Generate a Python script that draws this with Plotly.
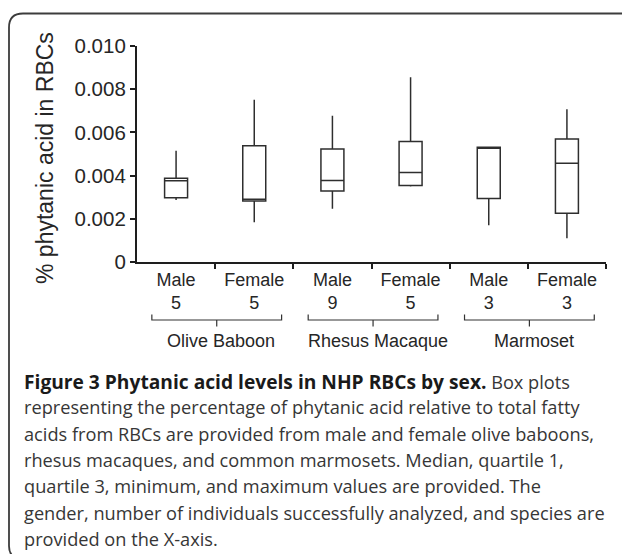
import plotly.graph_objects as go

# ---- data ----
sexes = ["Male", "Female", "Male", "Female", "Male", "Female"]
counts = [5, 5, 9, 5, 3, 3]
species = ["Olive Baboon", "Rhesus Macaque", "Marmoset"]
minimum = [0.00288, 0.00185, 0.00247, 0.00350, 0.00171, 0.00111]
quartile1 = [0.00298, 0.00283, 0.00329, 0.00354, 0.00295, 0.00226]
median = [0.00377, 0.00291, 0.00378, 0.00415, 0.00528, 0.00457]
quartile3 = [0.00388, 0.00538, 0.00523, 0.00558, 0.00531, 0.00569]
maximum = [0.00515, 0.00750, 0.00677, 0.00854, 0.00532, 0.00707]
y_ticks = [0, 0.002, 0.004, 0.006, 0.008, 0.010]
y_ticktext = ["0", "0.002", "0.004", "0.006", "0.008", "0.010"]
y_title = "% phytanic acid in RBCs"
caption_bold = "Figure 3 Phytanic acid levels in NHP RBCs by sex."
caption_lines = [
    " Box plots",
    "representing the percentage of phytanic acid relative to total fatty",
    "acids from RBCs are provided from male and female olive baboons,",
    "rhesus macaques, and common marmosets. Median, quartile 1,",
    "quartile 3, minimum, and maximum values are provided. The",
    "gender, number of individuals successfully analyzed, and species are",
    "provided on the X-axis.",
]

W, H = 622, 554
positions = list(range(len(sexes)))
XR = [-0.5, len(sexes) - 0.5]
XD = [137 / W, 606 / W]
YD = [1 - 262.3 / H, 1 - 45.7 / H]


def px_x(v):
    return XD[0] + (v - XR[0]) / (XR[1] - XR[0]) * (XD[1] - XD[0])


def py(p):
    return 1 - p / H


def pxp(p):
    return p / W


AX = "#1e1e1e"
TXT = "#262626"
CAP = "#363636"

fig = go.Figure()
fig.add_trace(go.Box(
    x=positions,
    q1=quartile1, median=median, q3=quartile3,
    lowerfence=minimum, upperfence=maximum,
    fillcolor="white",
    line=dict(color="#2e2e2e", width=1.5),
    whiskerwidth=0,
    boxpoints=False,
    hoverinfo="skip",
    showlegend=False,
))

ticktext = [f"{s}<br>{n}" for s, n in zip(sexes, counts)]

fig.update_layout(
    width=W, height=H,
    margin=dict(l=0, r=0, t=0, b=0),
    paper_bgcolor="white", plot_bgcolor="white",
    boxgap=0.58,
    font=dict(family="Liberation Sans, Arial, sans-serif", color=TXT),
    xaxis=dict(
        domain=XD, range=XR, showgrid=False, zeroline=False,
        showline=True, linecolor=AX, linewidth=2.2,
        tickvals=positions, ticktext=ticktext, ticks="",
        tickfont=dict(size=18, color=TXT),
        minor=dict(tickvals=[p + 0.5 for p in positions], ticks="outside",
                   ticklen=5, tickwidth=2, tickcolor=AX),
        automargin=False, fixedrange=True,
    ),
    yaxis=dict(
        domain=YD, range=[0, 0.010], showgrid=False, zeroline=False,
        showline=True, linecolor=AX, linewidth=2.2,
        tickvals=y_ticks, ticktext=y_ticktext, ticks="outside",
        ticklen=5, tickwidth=2, tickcolor=AX,
        tickfont=dict(size=20.5, color=TXT),
        automargin=False, fixedrange=True,
    ),
)

shapes = []
annotations = []

# y-axis title
annotations.append(dict(
    text=y_title, x=pxp(45), y=py(158), xref="paper", yref="paper",
    textangle=-90, showarrow=False, xanchor="center", yanchor="middle",
    font=dict(size=23, color=TXT, family="Liberation Sans, Arial, sans-serif"),
))

# species braces and labels
for k, name in enumerate(species):
    c = 2 * k + 0.52
    x0, x1, xc = px_x(c - 0.83), px_x(c + 0.83), px_x(c)
    yl, yu, yd = py(320), py(314.5), py(326.5)
    shapes.append(dict(
        type="path", xref="paper", yref="paper",
        path=f"M {x0},{yu} L {x0},{yl} L {x1},{yl} L {x1},{yu} M {xc},{yl} L {xc},{yd}",
        line=dict(color="#333333", width=1.2),
    ))
    annotations.append(dict(
        text=name, x=px_x(2 * k + 0.58), y=py(341), xref="paper", yref="paper",
        showarrow=False, xanchor="center", yanchor="middle",
        font=dict(size=18, color=TXT, family="Liberation Sans, Arial, sans-serif"),
    ))

# caption
cap_font = "Open Sans, Noto Sans, sans-serif"
first = (f"<span style='font-size:19.2px;color:#1a1a1a'><b>{caption_bold}</b></span>"
         f"{caption_lines[0]}")
lines = [first] + caption_lines[1:]
for i, ln in enumerate(lines):
    base = 387 + i * 26.3
    annotations.append(dict(
        text=ln, x=pxp(22), y=py(base - 6), xref="paper", yref="paper",
        showarrow=False, xanchor="left", yanchor="middle", align="left",
        font=dict(size=18.2, color=CAP, family=cap_font),
    ))

# rounded frame
fx, fy, r = 9, 13.5, 14
shapes.append(dict(
    type="path", xref="paper", yref="paper",
    path=(f"M {pxp(640)},{py(fy)} L {pxp(fx + r)},{py(fy)} "
          f"Q {pxp(fx)},{py(fy)} {pxp(fx)},{py(fy + r)} "
          f"L {pxp(fx)},{py(546)} Q {pxp(fx)},{py(559)} {pxp(fx + r)},{py(559)} "
          f"L {pxp(640)},{py(559)}"),
    line=dict(color="#3c3c3c", width=1.8),
))

fig.update_layout(shapes=shapes, annotations=annotations)
fig.write_html(
    "out.html",
    config={"displayModeBar": False},
    post_script="document.body.style.margin='0';document.body.style.overflow='hidden';",
)
